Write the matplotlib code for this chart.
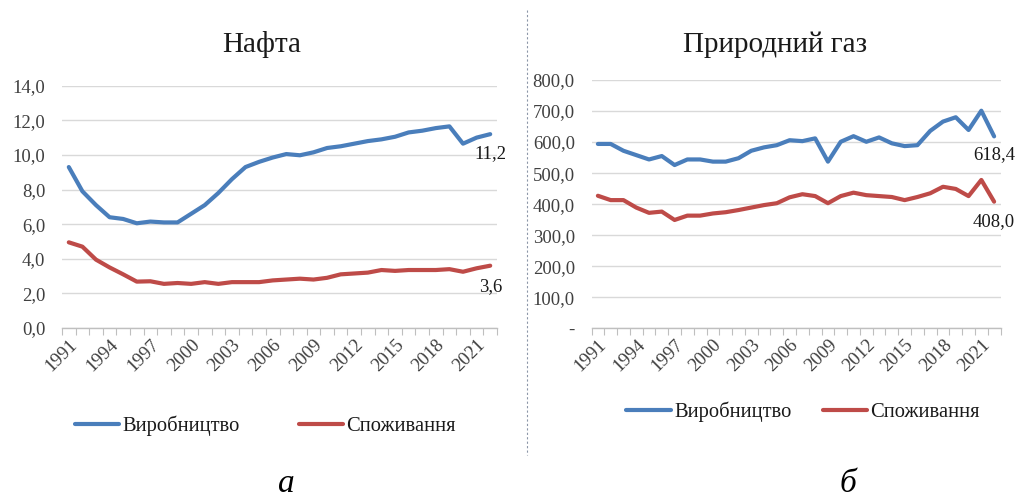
#!/usr/bin/env python3
# -*- coding: utf-8 -*-
"""
Oil and natural gas: production vs consumption, 1991-2022.
"""

import matplotlib
matplotlib.use('Agg')
import matplotlib.lines
import matplotlib.pyplot
import matplotlib.ticker

YEARS = list(range(1991, 2023))

OIL_PRODUCTION = [
    9.3, 7.9, 7.1, 6.4, 6.3, 6.05, 6.15, 6.1, 6.1, 6.6, 7.1, 7.8, 8.6, 9.3,
    9.6, 9.85, 10.05, 9.98, 10.15, 10.4, 10.5, 10.65, 10.8, 10.9, 11.05,
    11.3, 11.4, 11.55, 11.65, 10.65, 11.0, 11.2]
OIL_CONSUMPTION = [
    4.95, 4.7, 3.95, 3.5, 3.1, 2.68, 2.7, 2.55, 2.6, 2.55, 2.65, 2.55, 2.65,
    2.65, 2.65, 2.75, 2.8, 2.85, 2.8, 2.9, 3.1, 3.15, 3.2, 3.35, 3.3, 3.35,
    3.35, 3.35, 3.4, 3.25, 3.45, 3.6]

GAS_PRODUCTION = [
    594, 594, 572, 558, 544, 555, 526, 544, 544, 537, 537, 548, 572, 583,
    590, 606, 603, 612, 537, 601, 619, 601, 615, 596, 587, 590, 636, 666,
    680, 639, 701, 618.4]
GAS_CONSUMPTION = [
    427, 413, 413, 389, 372, 376, 349, 363, 363, 370, 374, 381, 389, 397,
    403, 422, 432, 426, 403, 426, 437, 429, 426, 423, 413, 423, 435, 456,
    449, 426, 478, 408.0]

SERIES_NAMES = ['Виробництво', 'Споживання']
TITLES = ['Нафта', 'Природний газ']
PANEL_LABELS = ['а', 'б']

BLUE = '#4A7EBB'
RED = '#BE4B48'
FONT = 'Liberation Serif'
W, H = 1019, 497


def comma(value, _pos=None):
    return f'{value:.1f}'.replace('.', ',')


def gas_format(value, _pos=None):
    if abs(value) < 1e-9:
        return '-'
    return comma(value)


def fx(px):
    return px / W


def fy(py):
    return 1 - py / H


def draw_panel(ax, production, consumption, ymax, ystep, formatter,
               label_offsets):
    ax.plot(YEARS, production, color=BLUE, linewidth=3.0,
            solid_capstyle='round')
    ax.plot(YEARS, consumption, color=RED, linewidth=3.0,
            solid_capstyle='round')
    ax.set_xlim(YEARS[0] - 0.5, YEARS[-1] + 0.5)
    ax.set_ylim(0, ymax)
    ax.yaxis.set_major_locator(matplotlib.ticker.MultipleLocator(ystep))
    ax.yaxis.set_major_formatter(matplotlib.ticker.FuncFormatter(formatter))
    ax.set_xticks(YEARS[::3])
    ax.set_xticklabels([str(y) for y in YEARS[::3]], rotation=45,
                       ha='right', va='top', rotation_mode='anchor')
    ax.set_xticks([y - 0.5 for y in YEARS] + [YEARS[-1] + 0.5], minor=True)
    ax.tick_params(axis='x', which='major', length=0, pad=6,
                   labelsize=13.5, labelcolor='#404040')
    ax.tick_params(axis='x', which='minor', length=5, width=0.8,
                   color='#BFBFBF')
    ax.tick_params(axis='y', length=0, pad=12, labelsize=13.5,
                   labelcolor='#404040')
    for label in ax.get_xticklabels() + ax.get_yticklabels():
        label.set_fontfamily(FONT)
    ax.grid(axis='y', color='#D9D9D9', linewidth=1.0)
    ax.set_axisbelow(True)
    for side in ['top', 'right', 'left']:
        ax.spines[side].set_visible(False)
    ax.spines['bottom'].set_color('#BFBFBF')
    ax.spines['bottom'].set_linewidth(1.0)
    for values, offset in zip([production, consumption], label_offsets):
        ax.annotate(formatter(values[-1]), (YEARS[-1], values[-1]),
                    xytext=(0, offset), textcoords='offset points',
                    ha='center', va='center', fontsize=13.5,
                    fontfamily=FONT, color='#1a1a1a',
                    annotation_clip=False)


def draw_legend(fig, line_x, text_x, y_line, y_text):
    for color, name, lx, tx in zip([BLUE, RED], SERIES_NAMES, line_x, text_x):
        fig.add_artist(matplotlib.lines.Line2D(
            [fx(lx[0]), fx(lx[1])], [fy(y_line), fy(y_line)],
            color=color, linewidth=3.0, solid_capstyle='round'))
        fig.text(fx(tx), fy(y_text), name, fontsize=14.8, fontfamily=FONT,
                 color='#1a1a1a', ha='left', va='baseline')


def main():
    fig = matplotlib.pyplot.figure(figsize=(W / 100, H / 100), dpi=100)
    fig.patch.set_facecolor('white')

    ax_oil = fig.add_axes([fx(62), fy(328), fx(435), 242.3 / H])
    draw_panel(ax_oil, OIL_PRODUCTION, OIL_CONSUMPTION, 14, 2, comma,
               [-14, -15])

    ax_gas = fig.add_axes([fx(591.5), fy(328.3), fx(409), 248.3 / H])
    draw_panel(ax_gas, GAS_PRODUCTION, GAS_CONSUMPTION, 800, 100,
               gas_format, [-13, -14])

    fig.text(fx(262), fy(52), TITLES[0], fontsize=21, fontfamily=FONT,
             color='#1a1a1a', ha='center', va='baseline')
    fig.text(fx(775), fy(52), TITLES[1], fontsize=21, fontfamily=FONT,
             color='#1a1a1a', ha='center', va='baseline')

    draw_legend(fig, [(75, 119), (299, 343)], [122, 346], 424, 431)
    draw_legend(fig, [(626, 671), (823, 867)], [674, 870], 410, 417)

    fig.text(fx(286), fy(492), PANEL_LABELS[0], fontsize=24, fontfamily=FONT,
             style='italic', ha='center', va='baseline')
    fig.text(fx(848), fy(492), PANEL_LABELS[1], fontsize=24, fontfamily=FONT,
             style='italic', ha='center', va='baseline')

    fig.add_artist(matplotlib.lines.Line2D(
        [fx(527), fx(527)], [fy(10), fy(455)], color='#8C96A8',
        linewidth=0.8, linestyle=(0, (2, 2))))

    fig.savefig('out.png', dpi=100, facecolor='white')
    matplotlib.pyplot.close(fig)


if __name__ == '__main__':
    main()
